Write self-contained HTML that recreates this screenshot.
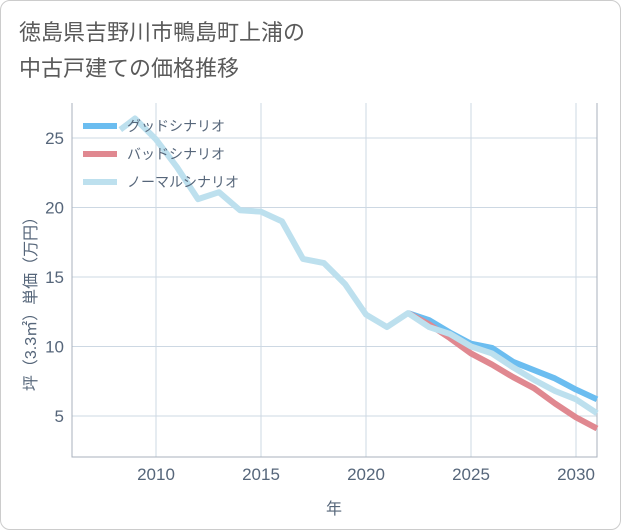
<!DOCTYPE html>
<html><head><meta charset="utf-8"><style>
body{margin:0;background:#fff}
.wrap{position:relative;width:619px;height:528px;border:1px solid #ccc;border-radius:10px;overflow:hidden;font-family:"Liberation Sans","Noto Sans CJK JP",sans-serif}
.title{position:absolute;left:18px;top:14px;font-size:22px;line-height:36px;color:#5a5a5a}
</style></head><body>
<div class="wrap">
<div class="title">徳島県吉野川市鴨島町上浦の<br>中古戸建ての価格推移</div>
<svg id="c" width="621" height="530" style="position:absolute;left:-1px;top:-1px"></svg>
</div>
<script>
const normalYears=[2008.3,2009,2010,2011,2012,2013,2014,2015,2016,2017,2018,2019,2020,2021,2022,2023,2024,2025,2026,2027,2028,2029,2030,2031];
const normalValues=[25.6,26.4,24.9,22.9,20.6,21.1,19.8,19.7,19.0,16.3,16.0,14.5,12.3,11.4,12.4,11.4,10.9,10.0,9.5,8.5,7.6,6.8,6.2,5.2];
const futureYears=[2022,2023,2024,2025,2026,2027,2028,2029,2030,2031];
const goodValues=[12.4,11.9,11.0,10.2,9.9,8.9,8.3,7.7,6.9,6.2];
const badValues=[12.4,11.6,10.6,9.5,8.7,7.8,7.0,5.9,4.9,4.1];
const xTicks=[2010,2015,2020,2025,2030];
const yTicks=[5,10,15,20,25];
const seriesNames=["グッドシナリオ","バッドシナリオ","ノーマルシナリオ"];
const L=72,R=597,T=103,B=457;
const x=v=>156+(v-2010)*21;
const y=v=>416-(v-5)*13.9;
const svg=document.getElementById('c');
const NS='http://www.w3.org/2000/svg';
function mk(t,a){const e=document.createElementNS(NS,t);for(const k in a)e.setAttribute(k,a[k]);svg.appendChild(e);return e;}
xTicks.forEach(v=>{
const g=mk('line',{x1:x(v),x2:x(v),y1:T,y2:B,stroke:'#cdd8e3','stroke-width':1});


const t=mk('text',{x:x(v),y:480,'text-anchor':'middle','font-size':17,fill:'#56667a'});t.textContent=v;


});
yTicks.forEach(v=>{
const g=mk('line',{x1:L,x2:R,y1:y(v),y2:y(v),stroke:'#cdd8e3','stroke-width':1});


const t=mk('text',{x:64,y:y(v)+6,'text-anchor':'end','font-size':17,fill:'#56667a'});t.textContent=v;


});
const ax=mk('path',{d:`M${L} ${T}V${B}H${R}V${T}`,fill:'none',stroke:'#a8b2bd','stroke-width':1});


function line(xs,vs,c,n){const p=mk('polyline',{points:xs.map((a,i)=>x(a)+','+y(vs[i])).join(' '),fill:'none',stroke:c,'stroke-width':6,'stroke-linejoin':'round'});

}
line(futureYears,goodValues,'#6bbdf0','good-scenario-line');
line(futureYears,badValues,'#e08890','bad-scenario-line');
line(normalYears,normalValues,'#bde0ee','normal-scenario-line');
const cols=['#6bbdf0','#e08890','#bde0ee'];
seriesNames.forEach((n,i)=>{
const yy=126+i*28;
const l=mk('line',{x1:83,x2:117,y1:yy,y2:yy,stroke:cols[i],'stroke-width':6});


const t=mk('text',{x:127,y:yy+5,'font-size':14,fill:'#56667a'});t.textContent=n;


});
const xt=mk('text',{x:334,y:514,'text-anchor':'middle','font-size':16,fill:'#56667a'});xt.textContent='年';


const yt=mk('text',{x:0,y:0,'text-anchor':'middle','font-size':16,fill:'#56667a',transform:'translate(36,300) rotate(-90)'});yt.textContent='坪（3.3㎡）単価（万円）';


</script>
</body></html>
